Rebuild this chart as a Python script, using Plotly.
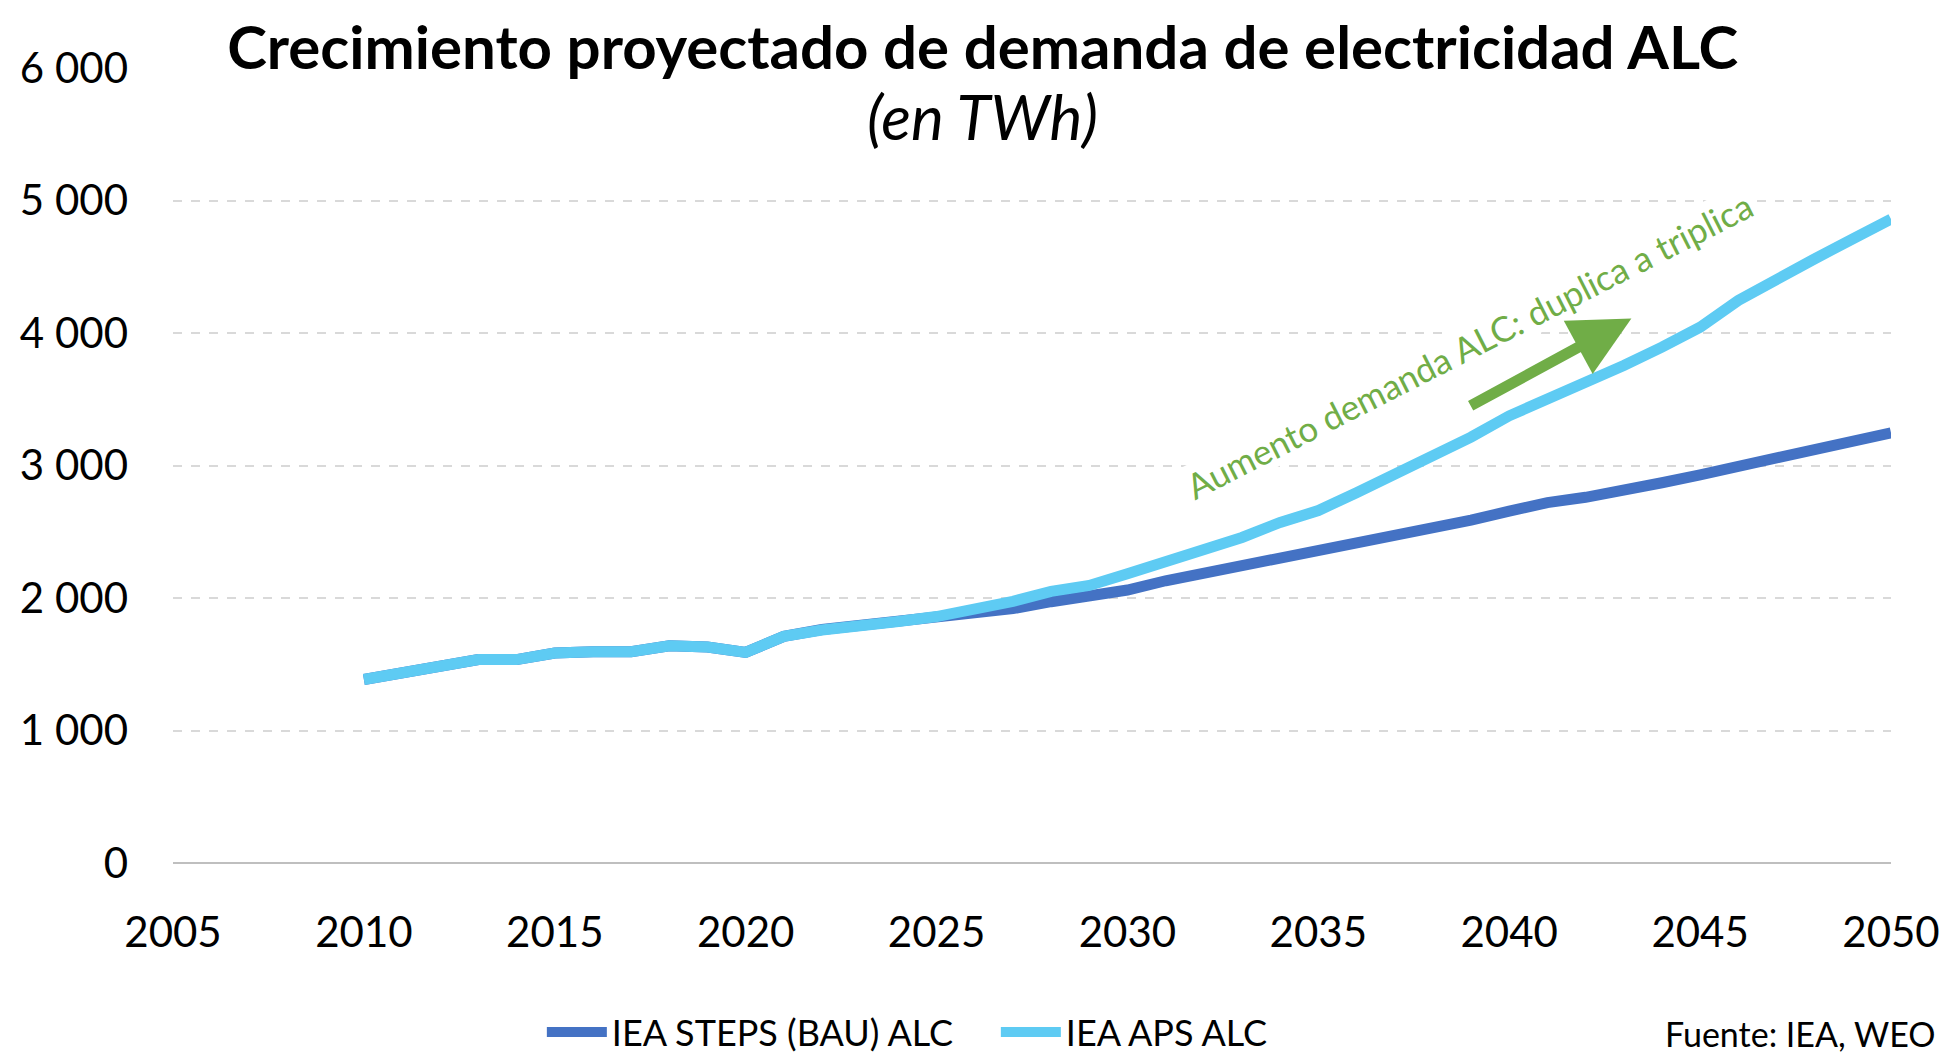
import plotly.graph_objects as go

years = list(range(2010, 2051))

steps_bau = [1385, 1440, 1500, 1535, 1535, 1585, 1595, 1595, 1640, 1630,
             1590, 1710, 1762, 1790, 1822, 1845, 1877, 1920, 1972, 2015,
             2060, 2130, 2187, 2238, 2296, 2346, 2409, 2459, 2522, 2588,
             2655, 2720, 2760, 2825, 2870, 2930, 2990, 3050, 3108, 3176,
             3247]

aps = [1385, 1440, 1500, 1535, 1535, 1585, 1595, 1595, 1640, 1630,
       1590, 1710, 1758, 1783, 1823, 1860, 1915, 1975, 2050, 2095,
       2183, 2270, 2362, 2457, 2570, 2660, 2795, 2937, 3065, 3214,
       3375, 3497, 3617, 3755, 3893, 4044, 4245, 4409, 4560, 4711,
       4860]

series_names = ["IEA STEPS (BAU) ALC", "IEA APS ALC"]
series_colors = ["#4472C4", "#5ECBF3"]

x_ticks = list(range(2005, 2051, 5))
y_ticks = [0, 1000, 2000, 3000, 4000, 5000, 6000]
y_tick_labels = ["0", "1 000", "2 000", "3 000", "4 000", "5 000", "6 000"]

title_text = "Crecimiento proyectado de demanda de electricidad ALC"
subtitle_text = "(en TWh)"
note_text = "Aumento demanda ALC: duplica a triplica"
source_text = "Fuente: IEA, WEO"

# arrow (data coordinates): tail -> head
arrow_tail = (2038.95, 3445)
arrow_head = (2043.2, 4110)

FONT = "Lato, 'Open Sans', sans-serif"

fig = go.Figure()
for name, vals, col in zip(series_names, [steps_bau, aps], series_colors):
    fig.add_trace(go.Scatter(
        x=years, y=vals, mode="lines", name=name,
        line=dict(color=col, width=11),
    ))

fig.update_layout(
    width=1947, height=1058,
    margin=dict(l=160, r=64, t=60, b=203),
    paper_bgcolor="white", plot_bgcolor="white",
    font=dict(family=FONT, color="#000000"),
    showlegend=True,
    legend=dict(
        orientation="h", x=0.2147, xanchor="left", xref="paper",
        y=(1058 - 1024) / 1058, yanchor="middle", yref="container",
        font=dict(size=36, family=FONT, color="#000000"),
        itemwidth=60, entrywidth=379,
    ),
    xaxis=dict(
        range=[2005, 2050], tickmode="array", tickvals=x_ticks,
        showgrid=False, zeroline=False, showline=False, ticks="",
        tickfont=dict(size=42, family=FONT, color="#000000"),
        ticklabelstandoff=41,
    ),
    yaxis=dict(
        range=[0, 6000], tickmode="array", tickvals=y_ticks, ticktext=y_tick_labels,
        showgrid=True, gridcolor="#D9D9D9", gridwidth=1.5, griddash="dash",
        zeroline=True, zerolinecolor="#BFBFBF", zerolinewidth=2,
        showline=False, ticks="",
        tickfont=dict(size=42, family=FONT, color="#000000"),
        ticklabelstandoff=44,
    ),
)

# Title (white background hides the top gridline like the original)
pad = "&nbsp;" * 6
fig.add_annotation(
    xref="paper", yref="paper", x=(972 - 160) / 1723, y=(854.5 - 38) / 795,
    xanchor="center", yanchor="middle", showarrow=False,
    text=pad + "<b>" + title_text + "</b>" + pad, bgcolor="white",
    font=dict(size=60, family=FONT, color="#000000"),
)
fig.add_annotation(
    xref="paper", yref="paper", x=(972 - 160) / 1723, y=(854.5 - 107) / 795,
    xanchor="center", yanchor="middle", showarrow=False,
    text="<i>" + subtitle_text + "</i>",
    font=dict(size=62, family=FONT, color="#000000"),
)

# Green rotated note
fig.add_annotation(
    xref="paper", yref="paper", x=(1460 - 160) / 1723, y=(854.5 - 336) / 795,
    xanchor="center", yanchor="middle", showarrow=False,
    text=note_text, textangle=-27, bgcolor="white", borderpad=0,
    font=dict(size=35, family=FONT, color="#70AD47"),
)

# Green arrow
fig.add_annotation(
    x=arrow_head[0], y=arrow_head[1], ax=arrow_tail[0], ay=arrow_tail[1],
    xref="x", yref="y", axref="x", ayref="y",
    text="", showarrow=True, arrowhead=2, arrowsize=1.1, arrowwidth=11,
    arrowcolor="#70AD47", standoff=0,
)

# Source (kept fully inside the page)
fig.add_annotation(
    xref="paper", yref="paper", x=(1930 - 160) / 1723, y=(854.5 - 1002) / 795,
    xanchor="right", yanchor="top", showarrow=False,
    text=source_text,
    font=dict(size=34, family=FONT, color="#000000"),
)

fig.write_html("out.html")
